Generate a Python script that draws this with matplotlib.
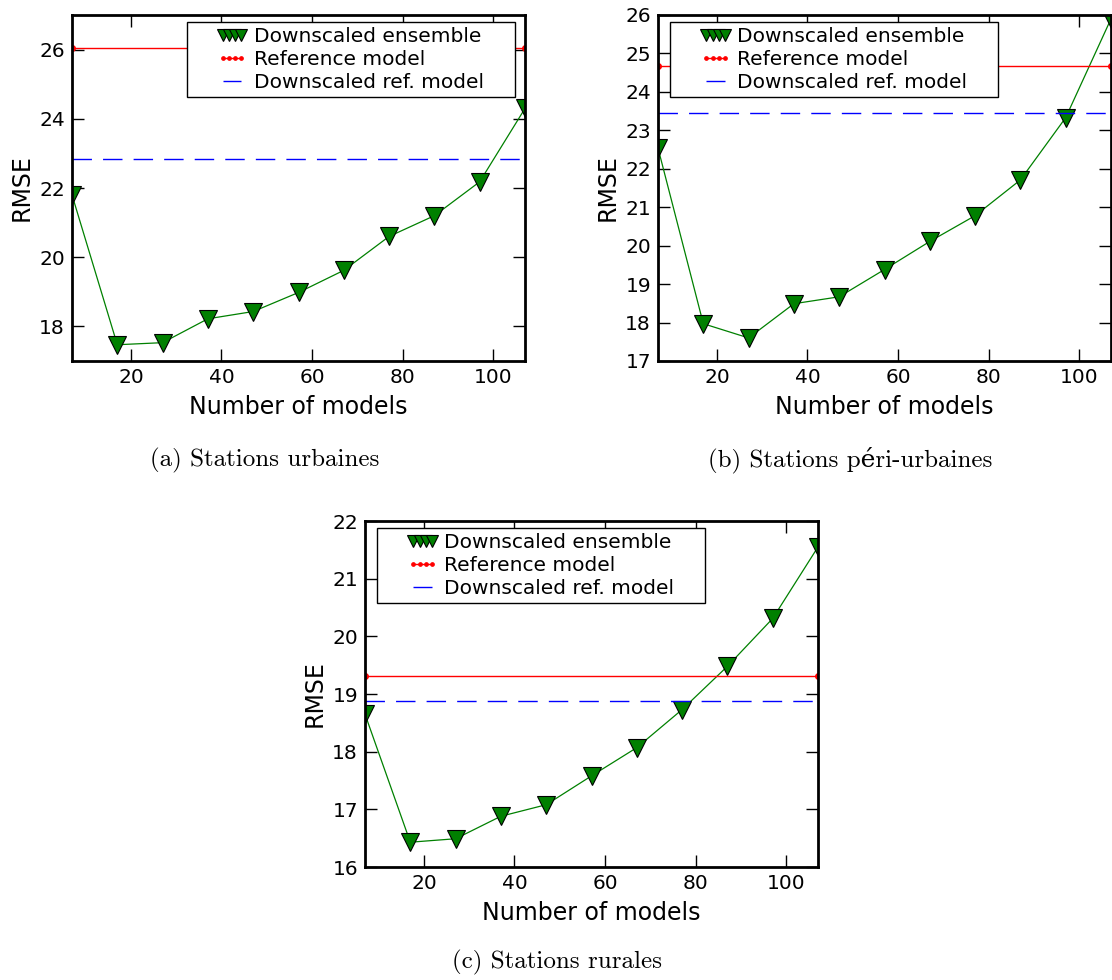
import matplotlib
matplotlib.use("Agg")
import matplotlib.pyplot as plt
from matplotlib.legend_handler import HandlerLine2D

# number of models in the ensemble (x axis)
n_models = [7, 17, 27, 37, 47, 57, 67, 77, 87, 97, 107]

# RMSE of the downscaled ensemble, per station type
rmse_urban = [21.8, 17.47, 17.53, 18.22, 18.43, 18.98, 19.62, 20.6, 21.2, 22.18, 24.3]
rmse_periurban = [22.54, 17.97, 17.6, 18.49, 18.67, 19.38, 20.11, 20.78, 21.71, 23.33, 25.9]
rmse_rural = [18.65, 16.43, 16.49, 16.88, 17.08, 17.58, 18.07, 18.73, 19.48, 20.31, 21.55]

# horizontal reference levels
ref_model = [26.05, 24.68, 19.31]
ref_downscaled = [22.84, 23.45, 18.88]

ylims = [(17, 27), (17, 26), (16, 22)]
yticks = [[18, 20, 22, 24, 26], list(range(17, 27)), list(range(16, 23))]
captions = ["(a) Stations urbaines", "(b) Stations péri-urbaines", "(c) Stations rurales"]
series = [rmse_urban, rmse_periurban, rmse_rural]

W, H = 1112, 980
fig = plt.figure(figsize=(W / 100, H / 100), dpi=100)

# axes boxes in pixels: left, top
boxes = [(72, 15), (658, 15), (365, 521)]
aw, ah = 453, 346
leg_left = [0.254, 0.027, 0.027]
cap_pos = [(265, 460), (850, 460), (557, 962)]

fs_leg = 14.5
for i in range(3):
    l, t = boxes[i]
    ax = fig.add_axes([l / W, 1 - (t + ah) / H, aw / W, ah / H])
    ens, = ax.plot(n_models, series[i], "-", color=(0, 0.5, 0), lw=0.9,
                   marker="v", ms=13.5, mfc=(0, 0.5, 0), mec="black", mew=0.8,
                   label="Downscaled ensemble")
    ref, = ax.plot([n_models[0], n_models[-1]], [ref_model[i]] * 2, "-", color="red",
                   lw=1.0, marker=".", ms=8, label="Reference model")
    dref, = ax.plot([n_models[0], n_models[-1]], [ref_downscaled[i]] * 2, color="blue",
                    lw=1.0, dashes=(14, 8), label="Downscaled ref. model")
    ax.set_xlim(7, 107)
    ax.set_ylim(*ylims[i])
    ax.set_xticks([20, 40, 60, 80, 100])
    ax.set_yticks(yticks[i])
    ax.tick_params(direction="in", length=8.5, width=1.0, labelsize=14.5,
                   top=True, right=True, pad=5)
    for s in ax.spines.values():
        s.set_linewidth(2.0)
    ax.set_xlabel("Number of models", fontsize=17, labelpad=6)
    ax.set_ylabel("RMSE", fontsize=17, labelpad=4)

    hm = {a: HandlerLine2D(numpoints=4, xpad=1.25) for a in (ens, ref, dref)}
    leg = ax.legend(handles=[ens, ref, dref], loc="upper left",
                    bbox_to_anchor=(leg_left[i], 0, 0.724, 0.979), mode="expand",
                    borderaxespad=0, fontsize=fs_leg, handlelength=2.75,
                    handletextpad=0.3, labelspacing=0.2, borderpad=0.25,
                    markerscale=0.6, fancybox=False, framealpha=1,
                    handler_map=hm)
    leg.get_frame().set_edgecolor("black")
    leg.get_frame().set_linewidth(1.0)

    cx, cy = cap_pos[i]
    fig.text(cx / W, 1 - cy / H, captions[i], ha="center", va="center",
             fontsize=18, family=["cmr10", "DejaVu Serif"])

fig.savefig("out.png", dpi=100)
